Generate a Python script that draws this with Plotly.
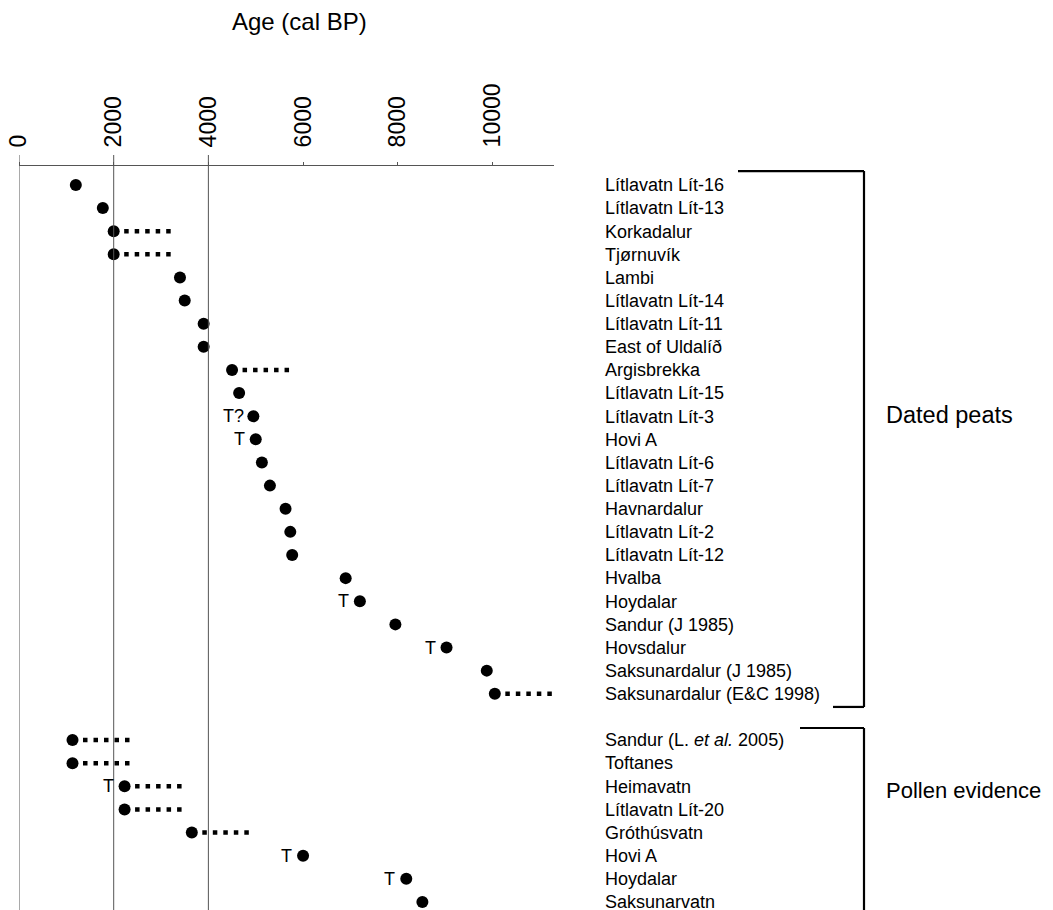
import plotly.graph_objects as go

# ---------------- data ----------------
dated_sites = [
    "Lítlavatn Lít-16", "Lítlavatn Lít-13", "Korkadalur", "Tjørnuvík", "Lambi",
    "Lítlavatn Lít-14", "Lítlavatn Lít-11", "East of Uldalíð", "Argisbrekka",
    "Lítlavatn Lít-15", "Lítlavatn Lít-3", "Hovi A", "Lítlavatn Lít-6",
    "Lítlavatn Lít-7", "Havnardalur", "Lítlavatn Lít-2", "Lítlavatn Lít-12",
    "Hvalba", "Hoydalar", "Sandur (J 1985)", "Hovsdalur",
    "Saksunardalur (J 1985)", "Saksunardalur (E&C 1998)",
]
dated_age = [1200, 1770, 2000, 2000, 3400, 3500, 3900, 3900, 4500, 4650, 4950, 5000,
             5130, 5300, 5630, 5730, 5770, 6900, 7200, 7950, 9030, 9880, 10050]
dated_range_end = [None, None, 3300, 3300, None, None, None, None, 5800, None, None, None,
                   None, None, None, None, None, None, None, None, None, None, 11300]
dated_flag = ["", "", "", "", "", "", "", "", "", "", "T?", "T",
              "", "", "", "", "", "", "T", "", "T", "", ""]

pollen_sites = ["Sandur (L. <i>et al.</i> 2005)", "Toftanes", "Heimavatn", "Lítlavatn Lít-20",
                "Gróthúsvatn", "Hovi A", "Hoydalar", "Saksunarvatn"]
pollen_age = [1130, 1130, 2230, 2230, 3650, 6000, 8180, 8520]
pollen_range_end = [2400, 2400, 3500, 3500, 4900, None, None, None]
pollen_flag = ["", "", "T", "", "", "T", "T", ""]

x_ticks = [0, 2000, 4000, 6000, 8000, 10000]
x_max = 11300
ref_lines = [0, 2000, 4000]
group_names = ["Dated peats", "Pollen evidence"]

# ---------------- layout of rows ----------------
n_d = len(dated_sites)
dated_rows = list(range(n_d))
pollen_rows = [n_d + 1 + i for i in range(len(pollen_sites))]
all_rows = dated_rows + pollen_rows
all_labels = dated_sites + pollen_sites
all_age = dated_age + pollen_age
all_end = dated_range_end + pollen_range_end
all_flag = dated_flag + pollen_flag

FONT = "Liberation Sans, Arial, sans-serif"
GREY = "#555555"

# page body has an 8px margin: figure origin sits at (8, 8) in the window
OFF = 8
L, T = 19 - OFF, 166 - OFF
W, H = 535.0, 744.0  # plot area size in px

fig = go.Figure()

# dotted ranges
lx, ly = [], []
for a, e, r in zip(all_age, all_end, all_rows):
    if e is not None:
        lx += [a, e, None]
        ly += [r, r, None]
fig.add_trace(go.Scatter(x=lx, y=ly, mode="lines",
                         line=dict(color="black", width=4.5, dash="4.5px,6px"),
                         hoverinfo="skip", showlegend=False))

# dots
fig.add_trace(go.Scatter(x=all_age, y=all_rows, mode="markers",
                         marker=dict(color="black", size=12),
                         text=all_labels, hovertemplate="%{text}: %{x}<extra></extra>",
                         showlegend=False))

# T markers
for a, r, f in zip(all_age, all_rows, all_flag):
    if f:
        fig.add_annotation(x=a, y=r, text=f, showarrow=False, xanchor="right",
                           yanchor="middle", xshift=-7 if f == "T?" else -9,
                           font=dict(family=FONT, size=18, color="black"))

# vertical reference lines (extend slightly above the axis line)
for v in ref_lines:
    fig.add_shape(type="line", xref="x", yref="paper", x0=v, x1=v, y0=0, y1=1 + 11 / H,
                  line=dict(color=GREY, width=1))

# brackets
def px(p):
    return (p - 19) / W

d_top, d_bot = -0.6, 22.57
p_top, p_bot = 23.48, 32.5
bx = px(864)
bracket_lines = [
    (px(738), d_top, bx, d_top),
    (bx, d_top, bx, d_bot),
    (px(833), d_bot, bx, d_bot),
    (px(800), p_top, bx, p_top),
    (bx, p_top, bx, p_bot),
]
for x0, y0, x1, y1 in bracket_lines:
    fig.add_shape(type="line", xref="paper", yref="y", x0=x0, y0=y0, x1=x1, y1=y1,
                  line=dict(color="black", width=2.2))

fig.add_annotation(xref="paper", yref="y", x=px(884), y=9.95, text=group_names[0],
                   showarrow=False, xanchor="left", yanchor="middle",
                   font=dict(family=FONT, size=23.5, color="black"))
fig.add_annotation(xref="paper", yref="y", x=px(884), y=26.2, text=group_names[1],
                   showarrow=False, xanchor="left", yanchor="middle",
                   font=dict(family=FONT, size=22, color="black"))

# axis title
fig.add_annotation(xref="paper", yref="paper", x=px(299), y=1 + (166 - 22) / H,
                   text="Age (cal BP)", showarrow=False, xanchor="center", yanchor="middle",
                   font=dict(family=FONT, size=24, color="black"))

fig.update_layout(
    width=1053 - OFF, height=910 - OFF, autosize=False,
    margin=dict(l=L, r=1053 - OFF - L - int(W), t=T, b=0, pad=0),
    paper_bgcolor="white", plot_bgcolor="white",
    font=dict(family=FONT, color="black"),
    xaxis=dict(side="top", range=[0, x_max], tickvals=x_ticks,
               ticktext=[str(t) for t in x_ticks], tickangle=-90,
               tickfont=dict(family=FONT, size=23, color="black"),
               showgrid=False, zeroline=False, showline=True, linecolor=GREY,
               linewidth=1, ticks="outside", ticklen=3, tickcolor=GREY,
               ticklabelstandoff=10, ticklabeloverflow="allow",
               automargin=False, fixedrange=True),
    yaxis=dict(side="right", range=[31.35, -0.82], tickvals=all_rows, ticktext=all_labels,
               tickfont=dict(family=FONT, size=18, color="black"),
               showgrid=False, zeroline=False, showline=False, ticks="",
               ticklabelstandoff=50, ticklabeloverflow="allow",
               automargin=False, fixedrange=True),
)

fig.write_html("out.html")
